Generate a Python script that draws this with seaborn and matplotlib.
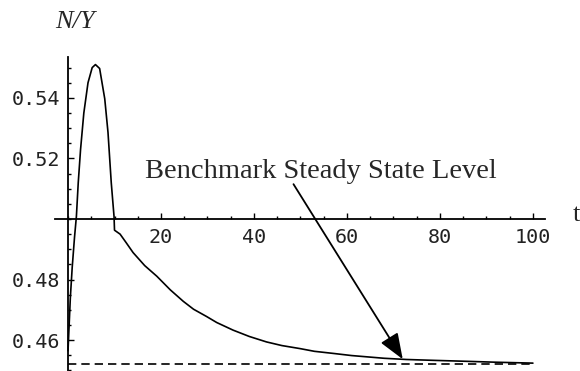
import matplotlib
matplotlib.use('Agg')
import matplotlib.pyplot as plt
import seaborn as sns
from matplotlib.ticker import MultipleLocator, FixedLocator, FuncFormatter

# Time path of N/Y
t_values = [0, 0.5, 0.9, 1.4, 1.8, 2.2, 2.7, 3.4, 4.3, 5.2, 5.9, 6.8, 7.9, 8.6,
            9.3, 9.9, 10.0, 11.2, 12.5, 14.0, 16.5, 19.1, 22.0, 24.8, 27.0,
            29.8, 32.0, 35.5, 39.0, 42.7, 46.0, 49.9, 53.0, 57.1, 61.0, 64.9,
            68.0, 72.8, 79.0, 85.7, 92.0, 100]
ny_values = [0.4565, 0.474, 0.484, 0.494, 0.5008, 0.512, 0.523, 0.535, 0.545,
             0.5500, 0.5510, 0.5497, 0.5397, 0.5286, 0.512, 0.5008, 0.4963,
             0.4950, 0.4922, 0.4889, 0.4846, 0.4811, 0.4766, 0.4728, 0.4702,
             0.4678, 0.4658, 0.4633, 0.4612, 0.4594, 0.4582, 0.4572, 0.4563,
             0.4556, 0.4549, 0.4544, 0.4540, 0.4536, 0.4533, 0.4530, 0.4527,
             0.4524]

steady_state = 0.4521
x_ticks = [20, 40, 60, 80, 100]
y_ticks = [0.46, 0.48, 0.52, 0.54]

sns.set_style('ticks')
plt.rcParams['font.family'] = ['DejaVu Sans Mono']

fig = plt.figure(figsize=(5.8, 3.71), dpi=100)
ax = fig.add_axes([55 / 580, 0, 490 / 580, 314 / 371])

sns.lineplot(x=t_values, y=ny_values, ax=ax, color='black', linewidth=1.2,
             estimator=None)
ax.hlines(steady_state, 0, 100, colors='black', linewidth=1.2,
          linestyles=(0, (5, 3)))

ax.set_xlim(-2.8, 102.6)
ax.set_ylim(0.4498, 0.5535)

# Mathematica style axes crossing at (0, 0.5)
ax.spines['left'].set_position(('data', 0))
ax.spines['bottom'].set_position(('data', 0.5))
ax.spines['top'].set_visible(False)
ax.spines['right'].set_visible(False)
for s in ['left', 'bottom']:
    ax.spines[s].set_linewidth(1.3)
    ax.spines[s].set_color('black')

ax.xaxis.set_major_locator(FixedLocator(x_ticks))
ax.xaxis.set_minor_locator(MultipleLocator(5))
ax.yaxis.set_major_locator(FixedLocator(y_ticks))
ax.yaxis.set_minor_locator(MultipleLocator(0.005))
ax.yaxis.set_major_formatter(FuncFormatter(lambda v, p: f'{v:.2f}'))

ax.tick_params(axis='both', which='major', direction='in', length=4,
               width=1, color='black', labelsize=14.5, labelcolor='#222222')
ax.tick_params(axis='both', which='minor', direction='in', length=2.2,
               width=1, color='black')
ax.tick_params(axis='y', which='major', pad=5.8)
ax.tick_params(axis='x', which='major', pad=6.5)

ax.set_xlabel('')
ax.set_ylabel('')

# annotation with arrow to the steady state
ax.annotate('', xy=(72.0, 0.4537), xytext=(48.5, 0.5115),
            arrowprops=dict(arrowstyle='-|>,head_length=0.88,head_width=0.34',
                            mutation_scale=18, color='black', lw=1.3,
                            shrinkA=0, shrinkB=0))
ax.text(16.6, 0.5135, 'Benchmark Steady State Level', fontsize=20.5,
        family=['Liberation Serif', 'DejaVu Serif'], va='baseline', ha='left')

fig.text(75 / 580, 1 - 21.5 / 371, 'N/Y', fontsize=19, style='italic',
         family=['Liberation Serif', 'DejaVu Serif'], ha='center', va='center')
fig.text(573 / 580, 1 - 215 / 371, 't', fontsize=19,
         family=['Liberation Serif', 'DejaVu Serif'], ha='left', va='center')

plt.savefig('out.png', dpi=100)
plt.close()
